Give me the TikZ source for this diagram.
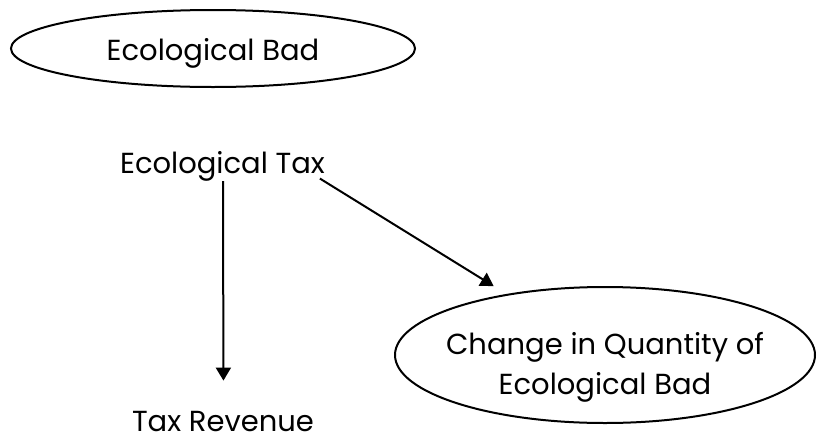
\documentclass[tikz,border=0pt]{standalone}
\usepackage{fontspec}
\setmainfont{Poppins}
\usetikzlibrary{shapes.geometric,arrows.meta}
\tikzset{
  lbl/.style={font=\fontsize{29}{40}\selectfont, inner sep=0pt, align=center},
  oval/.style={ellipse, draw, line width=2pt, inner sep=0pt},
  arr/.style={line width=2pt, -{Triangle[width=15pt,length=13pt]}}
}
\begin{document}
\begin{tikzpicture}[x=1pt,y=-1pt]
\useasboundingbox (0,0) rectangle (817,437);
\node[oval, minimum width=404pt, minimum height=77pt] (bad) at (213,48.5) {};
\node[lbl] (badtxt) at ([yshift=-5pt]bad.center) {Ecological Bad};
\node[lbl, anchor=base] (tax) at (222.5,173) {Ecological Tax};
\node[lbl, anchor=base] (rev) at (223,431) {Tax Revenue};
\node[oval, minimum width=420pt, minimum height=136pt] (chg) at (605,355) {};
\node[lbl] (chgtxt) at ([yshift=-12pt]chg.center) {Change in Quantity of\\Ecological Bad};
\draw[arr, shorten >=30pt] ([xshift=0.5pt]tax.south) -- ([xshift=0.5pt]rev.north);
\draw[arr, shorten <=1pt, shorten >=15pt] ([xshift=-6pt,yshift=3pt]tax.south east) -- (chg);
\end{tikzpicture}
\end{document}
